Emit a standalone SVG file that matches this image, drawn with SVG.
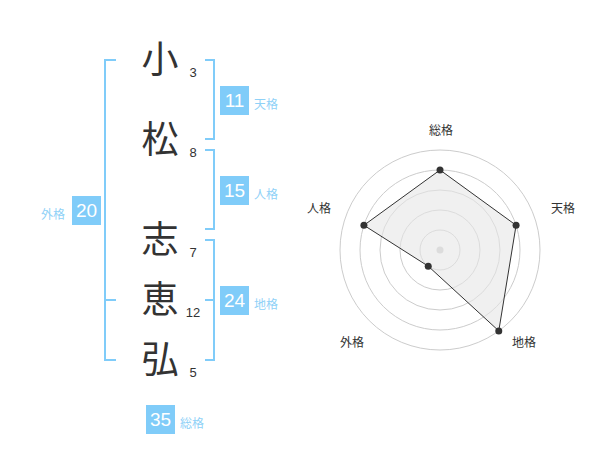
<svg xmlns="http://www.w3.org/2000/svg" width="600" height="470" viewBox="0 0 600 470">
<style>
.br{fill:none;stroke:#80ccf9;stroke-width:2}
.box{fill:#80ccf9}
.num{font-family:"Liberation Sans",Arial,sans-serif;font-size:19px;fill:#fff;text-anchor:middle}
.lbl{font-family:"Noto Sans CJK JP","Noto Sans CJK SC",sans-serif;font-size:12px;fill:#8fd1f7}
.ch{font-family:"Noto Sans CJK JP","Noto Sans CJK SC",sans-serif;font-size:37px;fill:#333;text-anchor:middle}
.st{font-family:"Liberation Sans",Arial,sans-serif;font-size:13px;fill:#333;text-anchor:middle}
.ring{fill:none;stroke:#ccc;stroke-width:1}
.rl{font-family:"Noto Sans CJK JP","Noto Sans CJK SC",sans-serif;font-size:12px;fill:#333;text-anchor:middle}
.dot{fill:#333}
</style>
<g id="chars">
<text class="ch" x="160" y="73">小</text>
<text class="ch" x="160" y="153">松</text>
<text class="ch" x="160" y="253">志</text>
<text class="ch" x="160" y="313">恵</text>
<text class="ch" x="160" y="373">弘</text>
</g>
<g id="strokes">
<text class="st" x="193" y="77">3</text>
<text class="st" x="193" y="157">8</text>
<text class="st" x="193" y="257">7</text>
<text class="st" x="193" y="317">12</text>
<text class="st" x="193" y="377">5</text>
</g>
<g id="connectors">
<path class="br" d="M116,60 H105 V360 H116 M105,300 H116"/>
<path class="br" d="M205,60 H214 V139 H205"/>
<path class="br" d="M205,150 H214 V229 H205"/>
<path class="br" d="M205,240 H214 V360 H205 M214,300 H205"/>
</g>
<g id="tenkaku">
<rect class="box" x="220" y="86" width="29" height="29"/>
<text class="num" x="234.5" y="107">11</text>
<text class="lbl" x="254" y="109">天格</text>
</g>
<g id="jinkaku">
<rect class="box" x="220" y="176" width="29" height="29"/>
<text class="num" x="234.5" y="197">15</text>
<text class="lbl" x="254" y="199">人格</text>
</g>
<g id="chikaku">
<rect class="box" x="220" y="286" width="29" height="29"/>
<text class="num" x="234.5" y="307">24</text>
<text class="lbl" x="254" y="309">地格</text>
</g>
<g id="gaikaku">
<rect class="box" x="72" y="196" width="29" height="29"/>
<text class="num" x="86.5" y="217">20</text>
<text class="lbl" x="41" y="219">外格</text>
</g>
<g id="soukaku">
<rect class="box" x="146" y="405" width="29" height="29"/>
<text class="num" x="160.5" y="426">35</text>
<text class="lbl" x="180" y="428">総格</text>
</g>
<g id="radar">
<circle class="ring" cx="440" cy="250" r="20"/>
<circle class="ring" cx="440" cy="250" r="40"/>
<circle class="ring" cx="440" cy="250" r="60"/>
<circle class="ring" cx="440" cy="250" r="80"/>
<circle class="ring" cx="440" cy="250" r="100"/>
<circle cx="440" cy="250" r="3.5" fill="#ccc"/>
<polygon points="440,170 516.08,225.28 498.78,330.9 428.24,266.18 363.92,225.28" fill="#e6e6e6" fill-opacity="0.6" stroke="#333" stroke-width="1"/>
<circle class="dot" cx="440" cy="170" r="3.5"/>
<circle class="dot" cx="516.08" cy="225.28" r="3.5"/>
<circle class="dot" cx="498.78" cy="330.9" r="3.5"/>
<circle class="dot" cx="428.24" cy="266.18" r="3.5"/>
<circle class="dot" cx="363.92" cy="225.28" r="3.5"/>
<text class="rl" x="441" y="135">総格</text>
<text class="rl" x="563" y="213">天格</text>
<text class="rl" x="319" y="213">人格</text>
<text class="rl" x="352" y="347">外格</text>
<text class="rl" x="524" y="347">地格</text>
</g>
</svg>
